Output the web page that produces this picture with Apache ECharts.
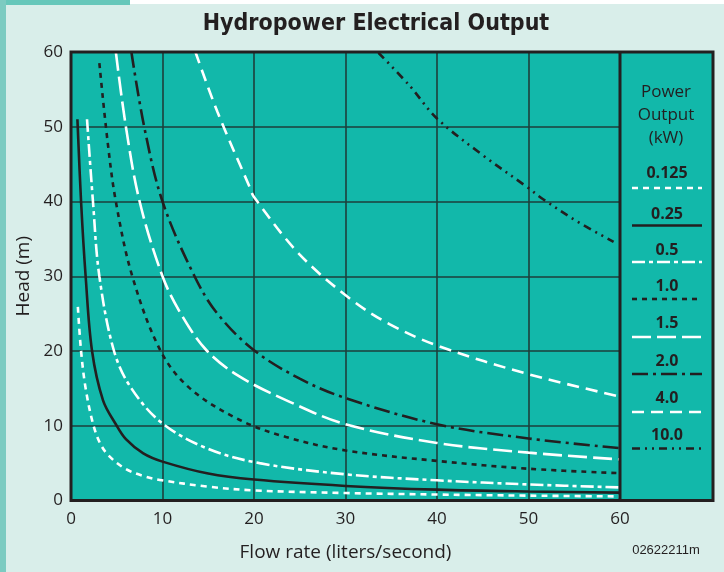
<!DOCTYPE html>
<html>
<head>
<meta charset="utf-8">
<script src="https://cdn.jsdelivr.net/npm/echarts@6/dist/echarts.min.js"></script>
<style>
html,body{margin:0;padding:0;background:#ffffff;}
#c{width:724px;height:572px;}
</style>
</head>
<body>
<div id="c"></div>
<script>
// ---- data (flow rate Q in L/s, head H in m) ----
const xTicks = [0, 10, 20, 30, 40, 50, 60];
const yTicks = [0, 10, 20, 30, 40, 50, 60];
const powerLabels = ['0.125', '0.25', '0.5', '1.0', '1.5', '2.0', '4.0', '10.0'];

const p0125 = [[0.75,25.9],[1.1,20],[1.6,15],[2.4,10.3],[3.2,7.6],[4.2,5.9],[6,4.2],[8,3.25],[9.7,2.75],[15,1.85],[20,1.35],[30,1.0],[40,0.8],[50,0.65],[60,0.55]];
const p025 = [[0.7,51],[1.1,40],[1.6,30],[2.3,20],[3.5,13.4],[4.9,10.2],[6,8.2],[7.9,6.3],[10,5.2],[15,3.6],[20,2.8],[30,1.95],[40,1.45],[50,1.2],[60,1.05]];
const p05 = [[1.75,51],[2.4,40],[3.1,30],[4.7,20],[6.6,15],[10,10.3],[15,6.9],[20.6,5.0],[30,3.5],[40,2.7],[50,2.15],[60,1.75]];
const p10 = [[3.1,58.5],[4,48],[4.9,40],[6.7,30],[9.8,20],[13,15],[18.4,10.8],[23.5,8.5],[30,6.7],[40,5.3],[50,4.25],[60,3.65]];
const p15 = [[4.9,60],[6,50],[7.5,40],[10,30],[12,25],[14.8,20.1],[18.4,16.6],[23.9,13.2],[30,10.2],[40,7.7],[50,6.4],[60,5.5]];
const p20 = [[6.6,60],[8,50],[10,40],[13.5,30],[16,25],[20,20.1],[25,16.3],[30,13.7],[40,10.2],[50,8.3],[60,7.0]];
const p40 = [[13.6,60],[16,52],[19.5,42],[20,40.6],[25,32.9],[30.5,27.0],[34.8,23.6],[40.3,20.6],[50,16.9],[60,13.9]];
const p100 = [[33.6,59.9],[37,55.5],[40,51.1],[45,46.2],[50,41.8],[51.6,40.3],[55.5,37.2],[59.3,34.6]];

const seriesData = [p0125, p025, p05, p10, p15, p20, p40, p100];

// ---- styles ----
const DARK = '#231f20';
const WHITE = '#ffffff';
const styles = [
  {color: WHITE, type: [6,5]},
  {color: DARK,  type: 'solid'},
  {color: WHITE, type: [13,4,4,4]},
  {color: DARK,  type: [5,5]},
  {color: WHITE, type: [19,6]},
  {color: DARK,  type: [16,5,3,5]},
  {color: WHITE, type: [12,7]},
  {color: DARK,  type: [8,5,2,5,2,5]}
];

const chart = echarts.init(document.getElementById('c'));

const series = seriesData.map((d, i) => ({
  name: powerLabels[i],
  type: 'line',
  data: d,
  smooth: 0.35,
  showSymbol: false,
  silent: true,
  z: 5,
  lineStyle: {color: styles[i].color, width: 2.6, type: styles[i].type, cap: 'butt'}
}));

// legend panel graphics
const legendY = [[173,188],[214,225.5],[250,262],[286,299],[323,337],[361,374],[398,412],[435,448.5]];
const graphics = [
  {type:'rect', shape:{x:0,y:4,width:724,height:568}, style:{fill:'#d9eeea'}, z:-20, silent:true},
  {type:'rect', shape:{x:0,y:0,width:130,height:5}, style:{fill:'#66c7ba'}, z:-19, silent:true},
  {type:'rect', shape:{x:0,y:0,width:6,height:572}, style:{fill:'#7ccbc1'}, z:-19, silent:true},
  {type:'rect', shape:{x:71,y:52,width:642,height:448.5}, style:{fill:'#12b8aa'}, z:-10, silent:true},
  {type:'rect', shape:{x:71,y:52,width:642,height:448.5}, style:{fill:null, stroke:DARK, lineWidth:3}, z:50, silent:true},
  {type:'line', shape:{x1:620,y1:52,x2:620,y2:500}, style:{stroke:DARK, lineWidth:3}, z:50, silent:true},
  {type:'text', x:376, y:24, style:{text:'Hydropower Electrical Output', fill:DARK, font:'bold 23px "DejaVu Sans Condensed", "DejaVu Sans"', textAlign:'center', textVerticalAlign:'middle'}, z:50, silent:true},
  {type:'text', x:666, y:92, style:{text:'Power', fill:DARK, font:'17px "Open Sans"', textAlign:'center', textVerticalAlign:'middle'}, z:50},
  {type:'text', x:666, y:115, style:{text:'Output', fill:DARK, font:'17px "Open Sans"', textAlign:'center', textVerticalAlign:'middle'}, z:50},
  {type:'text', x:666, y:138, style:{text:'(kW)', fill:DARK, font:'17px "Open Sans"', textAlign:'center', textVerticalAlign:'middle'}, z:50},
  {type:'text', x:666, y:550, style:{text:'02622211m', fill:DARK, font:'13px "Liberation Sans"', textAlign:'center', textVerticalAlign:'middle'}, z:50}
];
powerLabels.forEach((lab, i) => {
  graphics.push({type:'text', x:667, y:legendY[i][0], style:{text:lab, fill:DARK, font:'bold 16px "Open Sans"', textAlign:'center', textVerticalAlign:'middle'}, z:50});
  graphics.push({type:'line', shape:{x1:632,y1:legendY[i][1],x2:702,y2:legendY[i][1]}, style:{stroke:styles[i].color, lineWidth:2.6, lineDash: styles[i].type === 'solid' ? null : styles[i].type}, z:50});
});

chart.setOption({
  animation: false,
  backgroundColor: 'transparent',
  grid: {left: 71, right: 104, top: 52, bottom: 71.5, containLabel: false},
  xAxis: {
    type: 'value', min: xTicks[0], max: xTicks[xTicks.length-1], interval: 10,
    name: 'Flow rate (liters/second)', nameLocation: 'middle', nameGap: 43,
    nameTextStyle: {fontSize: 19, color: DARK, fontFamily: 'Open Sans'},
    axisLine: {show: false}, axisTick: {show: false},
    axisLabel: {fontSize: 17, color: DARK, fontFamily: 'Open Sans', margin: 10,
      formatter: v => xTicks.indexOf(v) >= 0 ? String(v) : ''},
    splitLine: {show: true, lineStyle: {color: '#1d3f3b', width: 1.6}}
  },
  yAxis: {
    type: 'value', min: yTicks[0], max: yTicks[yTicks.length-1], interval: 10,
    name: 'Head (m)', nameLocation: 'middle', nameGap: 33, nameRotate: 90,
    nameTextStyle: {fontSize: 19, color: DARK, fontFamily: 'Open Sans'},
    axisLine: {show: false}, axisTick: {show: false},
    axisLabel: {fontSize: 17, color: DARK, fontFamily: 'Open Sans', margin: 8,
      formatter: v => yTicks.indexOf(v) >= 0 ? String(v) : ''},
    splitLine: {show: true, lineStyle: {color: '#1d3f3b', width: 1.6}}
  },
  graphic: graphics,
  series: series
});
</script>
</body>
</html>
